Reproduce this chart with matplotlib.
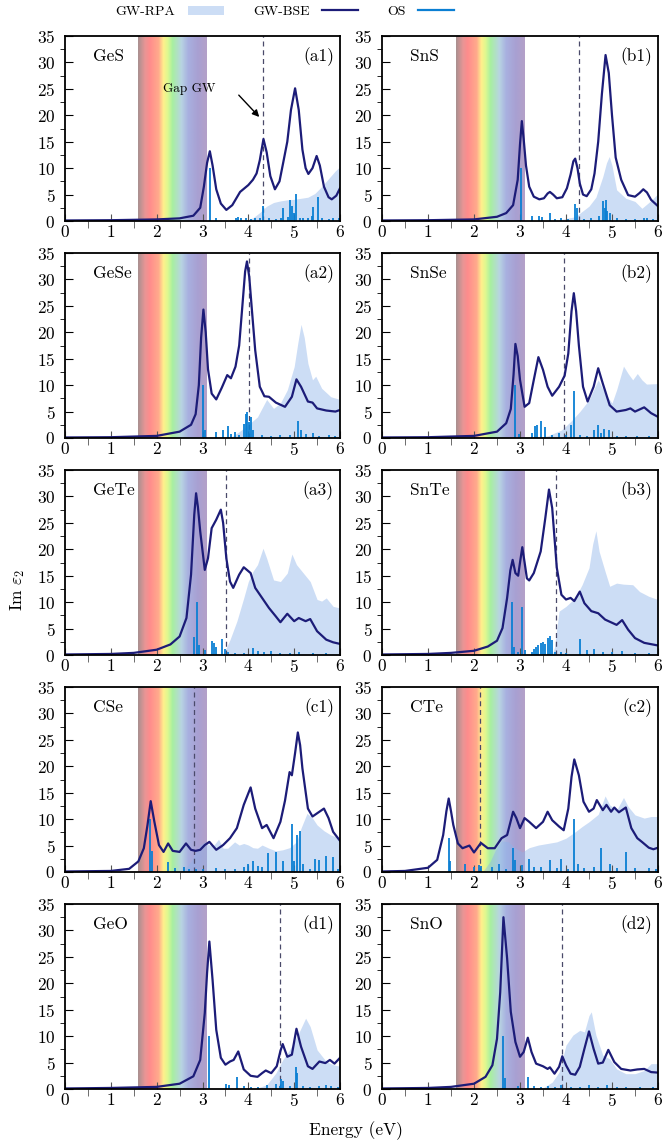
import numpy as np
import matplotlib
matplotlib.use('Agg')
import matplotlib.pyplot as plt
from matplotlib.colors import LinearSegmentedColormap
from matplotlib.patches import Patch
from matplotlib.lines import Line2D

plt.rcParams['font.family'] = 'serif'
plt.rcParams['font.serif'] = ['cmr10']
plt.rcParams['mathtext.fontset'] = 'cm'
plt.rcParams['axes.formatter.use_mathtext'] = True
plt.rcParams['axes.unicode_minus'] = False

# ---- data ----
names = ['GeS', 'SnS', 'GeSe', 'SnSe', 'GeTe', 'SnTe', 'CSe', 'CTe', 'GeO', 'SnO']
tags = ['(a1)', '(b1)', '(a2)', '(b2)', '(a3)', '(b3)', '(c1)', '(c2)', '(d1)', '(d2)']
gap_gw = [4.33, 4.28, 4.01, 3.96, 3.51, 3.78, 2.82, 2.12, 4.69, 3.91]

# GeS
ges_bse_x = [0, 1.0, 2.0, 2.5, 2.8, 2.95, 3.03, 3.1, 3.16, 3.22, 3.3, 3.4, 3.52, 3.65, 3.82, 4.0, 4.1, 4.18, 4.25, 4.33, 4.4, 4.48, 4.58, 4.68, 4.76, 4.85, 4.93, 5.02, 5.1, 5.18, 5.25, 5.31, 5.4, 5.49, 5.56, 5.65, 5.75, 5.82, 5.92, 6.0]
ges_bse_y = [0.1, 0.15, 0.3, 0.5, 1.0, 2.5, 6.5, 11.0, 13.2, 10.5, 6.0, 3.3, 2.1, 3.0, 5.5, 6.8, 7.8, 9.0, 11.5, 15.5, 13.0, 8.5, 6.0, 7.5, 11.0, 15.0, 21.0, 25.1, 21.0, 13.5, 10.0, 8.9, 10.0, 12.3, 10.5, 6.5, 4.5, 4.1, 4.8, 6.2]
ges_rpa_x = [3.9, 4.1, 4.25, 4.4, 4.55, 4.7, 4.85, 5.0, 5.15, 5.3, 5.45, 5.6, 5.75, 5.9, 6.0]
ges_rpa_y = [0, 0.6, 1.6, 2.8, 3.5, 3.8, 4.0, 4.1, 4.3, 4.5, 5.2, 6.5, 8.0, 9.5, 10.3]
ges_os_x = [3.16, 3.3, 3.72, 3.78, 3.85, 3.95, 4.05, 4.15, 4.25, 4.33, 4.45, 4.6, 4.72, 4.76, 4.87, 4.91, 4.95, 5.0, 5.05, 5.12, 5.2, 5.3, 5.38, 5.42, 5.53, 5.6, 5.75, 5.85, 5.97]
ges_os_y = [10.0, 0.6, 0.5, 0.8, 0.6, 0.5, 0.4, 0.5, 0.6, 2.9, 0.5, 0.4, 0.6, 2.4, 0.8, 3.9, 2.9, 1.6, 5.1, 0.6, 0.5, 0.6, 0.9, 2.7, 4.6, 0.6, 0.4, 0.5, 0.6]

# SnS
sns_bse_x = [0, 1.0, 2.0, 2.5, 2.7, 2.85, 2.95, 3.0, 3.04, 3.08, 3.13, 3.2, 3.3, 3.42, 3.52, 3.6, 3.65, 3.72, 3.8, 3.92, 4.02, 4.1, 4.16, 4.2, 4.25, 4.3, 4.37, 4.45, 4.55, 4.62, 4.7, 4.78, 4.86, 4.93, 5.0, 5.08, 5.2, 5.35, 5.5, 5.6, 5.68, 5.76, 5.85, 6.0]
sns_bse_y = [0.1, 0.15, 0.3, 0.8, 1.5, 3.0, 7.8, 14.5, 18.9, 15.5, 10.5, 6.5, 4.6, 4.1, 4.3, 5.2, 5.5, 5.0, 4.3, 4.5, 6.2, 8.8, 11.3, 11.8, 10.0, 7.1, 5.0, 4.7, 6.0, 9.0, 15.0, 24.0, 31.4, 28.0, 20.0, 12.0, 7.8, 4.9, 4.6, 5.3, 6.0, 5.4, 4.0, 2.8]
sns_rpa_x = [3.6, 3.9, 4.2, 4.35, 4.5, 4.65, 4.8, 4.88, 4.94, 5.0, 5.1, 5.3, 5.5, 5.65, 5.8, 5.9, 6.0]
sns_rpa_y = [0, 0.3, 0.8, 1.8, 2.8, 4.5, 8.4, 11.0, 12.2, 10.5, 5.9, 4.3, 3.7, 2.4, 3.5, 4.3, 5.2]
sns_os_x = [3.03, 3.25, 3.42, 3.47, 3.65, 3.75, 3.9, 4.05, 4.2, 4.24, 4.4, 4.55, 4.72, 4.8, 4.84, 4.87, 4.9, 4.95, 5.1, 5.3, 5.5, 5.7, 5.75, 5.9]
sns_os_y = [10.0, 1.0, 0.9, 0.8, 1.6, 0.4, 0.5, 0.4, 3.3, 2.5, 0.4, 0.6, 1.0, 3.7, 2.5, 4.0, 1.8, 1.5, 0.5, 0.4, 0.3, 0.6, 0.5, 0.3]

# GeSe
gese_bse_x = [0, 1.0, 2.0, 2.5, 2.75, 2.85, 2.92, 2.97, 3.02, 3.07, 3.12, 3.2, 3.3, 3.42, 3.54, 3.62, 3.72, 3.8, 3.87, 3.93, 3.97, 4.02, 4.08, 4.15, 4.25, 4.35, 4.45, 4.6, 4.8, 4.95, 5.05, 5.15, 5.3, 5.4, 5.5, 5.7, 5.9, 6.0]
gese_bse_y = [0.1, 0.15, 0.4, 1.2, 2.5, 4.5, 10.0, 19.0, 24.3, 20.0, 13.0, 8.4, 7.3, 9.5, 11.9, 11.3, 13.5, 17.5, 25.0, 31.5, 33.4, 30.5, 24.0, 16.6, 9.7, 7.9, 7.8, 6.7, 5.9, 7.8, 11.1, 9.7, 6.9, 6.7, 5.6, 5.2, 5.0, 5.3]
gese_rpa_x = [3.6, 3.8, 4.0, 4.2, 4.4, 4.55, 4.7, 4.85, 5.0, 5.08, 5.15, 5.22, 5.3, 5.4, 5.47, 5.6, 5.8, 6.0]
gese_rpa_y = [0, 1.2, 2.5, 4.0, 7.3, 5.6, 6.6, 9.1, 13.5, 18.0, 21.5, 19.0, 14.1, 11.0, 11.7, 9.4, 7.8, 7.3]
gese_os_x = [3.0, 3.05, 3.3, 3.45, 3.55, 3.62, 3.7, 3.8, 3.9, 3.95, 3.98, 4.01, 4.05, 4.1, 4.3, 4.5, 4.7, 4.9, 5.08, 5.15, 5.25, 5.4, 5.55, 5.75, 5.9]
gese_os_y = [10.0, 1.5, 1.2, 1.5, 2.2, 0.8, 1.2, 0.6, 2.6, 4.6, 5.0, 3.0, 4.0, 1.5, 0.6, 0.4, 0.5, 0.6, 3.2, 1.5, 0.8, 1.0, 0.4, 0.5, 0.3]

# SnSe
snse_bse_x = [0, 1.0, 2.0, 2.5, 2.7, 2.8, 2.86, 2.9, 2.95, 3.0, 3.1, 3.2, 3.3, 3.4, 3.5, 3.6, 3.7, 3.85, 3.97, 4.05, 4.12, 4.17, 4.22, 4.28, 4.37, 4.47, 4.6, 4.7, 4.8, 4.95, 5.1, 5.3, 5.4, 5.5, 5.7, 5.85, 6.0]
snse_bse_y = [0.1, 0.15, 0.4, 1.2, 2.8, 5.5, 12.0, 17.8, 15.5, 11.0, 5.9, 6.6, 11.0, 15.3, 12.9, 9.7, 8.0, 9.7, 11.8, 16.0, 24.0, 27.4, 24.0, 17.5, 9.7, 6.9, 9.7, 13.2, 10.3, 6.2, 5.0, 5.3, 5.6, 5.0, 5.8, 4.7, 4.0]
snse_rpa_x = [3.3, 3.6, 3.9, 4.1, 4.3, 4.5, 4.7, 4.85, 5.0, 5.1, 5.25, 5.35, 5.45, 5.55, 5.65, 5.75, 6.0]
snse_rpa_y = [0, 0.4, 1.5, 3.1, 5.0, 7.2, 11.0, 8.4, 6.6, 9.1, 13.6, 12.2, 11.0, 12.2, 11.0, 10.2, 10.3]
snse_os_x = [2.9, 2.97, 3.25, 3.32, 3.38, 3.45, 3.55, 3.7, 3.85, 4.0, 4.1, 4.17, 4.3, 4.45, 4.6, 4.7, 4.75, 4.82, 4.93, 5.1, 5.3, 5.55, 5.8]
snse_os_y = [10.0, 0.8, 1.0, 2.3, 2.5, 3.2, 2.0, 0.5, 1.0, 0.6, 2.5, 8.8, 0.5, 0.4, 1.5, 2.5, 1.0, 1.7, 1.5, 0.4, 0.4, 0.3, 0.3]

# GeTe
gete_bse_x = [0, 1.0, 1.5, 2.0, 2.3, 2.5, 2.65, 2.75, 2.82, 2.86, 2.9, 2.95, 3.05, 3.12, 3.2, 3.3, 3.4, 3.45, 3.52, 3.6, 3.67, 3.8, 3.9, 4.05, 4.15, 4.3, 4.45, 4.6, 4.7, 4.85, 5.0, 5.1, 5.25, 5.35, 5.5, 5.7, 5.85, 6.0]
gete_bse_y = [0.1, 0.2, 0.4, 1.0, 2.0, 3.5, 7.0, 15.2, 26.5, 30.6, 28.0, 23.4, 16.1, 18.3, 24.0, 25.6, 27.5, 25.0, 18.3, 13.9, 12.7, 15.2, 16.6, 15.5, 12.7, 10.8, 8.9, 7.3, 6.2, 7.8, 6.4, 7.0, 6.4, 6.8, 4.5, 2.9, 2.4, 2.1]
gete_rpa_x = [3.42, 3.5, 3.6, 3.75, 3.9, 4.0, 4.1, 4.2, 4.32, 4.4, 4.55, 4.7, 4.85, 4.95, 5.05, 5.2, 5.35, 5.5, 5.6, 5.7, 5.85, 6.0]
gete_rpa_y = [0, 1.0, 2.9, 6.4, 10.8, 13.9, 15.8, 17.1, 20.2, 18.3, 14.2, 13.9, 15.5, 19.1, 17.1, 15.5, 13.9, 10.5, 10.2, 10.8, 9.2, 8.9]
gete_os_x = [2.82, 2.88, 2.92, 3.05, 3.2, 3.25, 3.3, 3.42, 3.48, 3.55, 3.7, 3.9, 4.1, 4.2, 4.35, 4.5, 4.7, 4.9, 5.1, 5.4, 5.7]
gete_os_y = [3.5, 10.0, 1.8, 1.0, 2.7, 2.2, 1.5, 3.0, 1.2, 0.5, 0.4, 0.4, 1.4, 0.8, 0.5, 0.7, 0.4, 0.4, 0.5, 0.3, 0.3]

# SnTe
snte_bse_x = [0, 1.0, 1.5, 2.0, 2.3, 2.5, 2.62, 2.72, 2.79, 2.84, 2.9, 2.96, 3.0, 3.05, 3.1, 3.15, 3.2, 3.3, 3.45, 3.55, 3.63, 3.7, 3.8, 3.9, 4.0, 4.1, 4.18, 4.3, 4.4, 4.55, 4.7, 4.85, 5.0, 5.1, 5.22, 5.35, 5.5, 5.7, 6.0]
snte_bse_y = [0.1, 0.2, 0.4, 0.8, 1.6, 2.7, 5.1, 10.8, 16.0, 18.0, 15.5, 15.0, 17.5, 20.4, 17.5, 14.5, 14.1, 15.5, 19.6, 25.9, 31.3, 27.8, 16.5, 11.4, 10.5, 10.8, 10.2, 12.0, 9.8, 8.3, 7.9, 6.7, 6.1, 5.7, 6.6, 4.8, 3.2, 2.3, 1.8]
snte_rpa_x = [3.7, 3.75, 3.8, 3.85, 4.0, 4.2, 4.35, 4.5, 4.58, 4.65, 4.72, 4.85, 4.95, 5.1, 5.25, 5.45, 5.6, 5.8, 6.0]
snte_rpa_y = [0, 1.5, 5.0, 8.3, 9.2, 10.8, 13.3, 16.5, 21.0, 23.5, 19.6, 15.8, 13.0, 13.6, 13.4, 13.3, 12.0, 11.1, 10.5]
snte_os_x = [2.82, 2.86, 2.95, 3.05, 3.1, 3.25, 3.3, 3.35, 3.4, 3.45, 3.5, 3.55, 3.6, 3.65, 3.7, 3.75, 3.9, 4.0, 4.3, 4.45, 4.6, 4.8, 5.0, 5.22, 5.5, 5.8]
snte_os_y = [10.0, 1.5, 0.5, 9.1, 1.0, 0.6, 1.2, 1.5, 1.8, 2.3, 2.5, 2.0, 3.3, 3.6, 2.8, 0.6, 0.5, 0.4, 3.0, 1.0, 1.2, 0.5, 0.5, 0.8, 0.4, 0.3]

# CSe
cse_bse_x = [0, 1.0, 1.4, 1.6, 1.72, 1.8, 1.87, 1.95, 2.05, 2.15, 2.25, 2.35, 2.5, 2.64, 2.75, 2.85, 2.95, 3.05, 3.15, 3.3, 3.45, 3.6, 3.75, 3.9, 4.05, 4.15, 4.3, 4.4, 4.55, 4.7, 4.8, 4.9, 4.95, 5.02, 5.08, 5.13, 5.18, 5.3, 5.4, 5.55, 5.65, 5.75, 5.85, 6.0]
cse_bse_y = [0.1, 0.2, 0.6, 2.0, 4.5, 8.9, 13.4, 9.5, 5.1, 3.8, 5.4, 4.0, 3.8, 5.4, 4.2, 4.0, 4.2, 5.1, 5.7, 4.2, 5.1, 6.4, 8.3, 12.7, 16.0, 12.0, 8.3, 8.9, 6.4, 9.5, 13.5, 18.9, 18.3, 22.5, 26.4, 24.0, 19.6, 12.0, 10.5, 11.4, 12.0, 10.2, 7.6, 5.9]
cse_rpa_x = [2.5, 2.6, 2.75, 2.85, 2.95, 3.05, 3.15, 3.25, 3.35, 3.45, 3.55, 3.7, 3.8, 3.9, 4.0, 4.1, 4.2, 4.3, 4.45, 4.6, 4.75, 4.9, 5.05, 5.15, 5.28, 5.4, 5.5, 5.65, 5.8, 6.0]
cse_rpa_y = [0, 0.4, 2.0, 3.8, 5.1, 5.7, 5.1, 5.1, 6.2, 4.5, 4.5, 5.7, 5.1, 5.4, 5.1, 4.6, 4.5, 5.1, 4.5, 4.0, 4.2, 4.6, 5.7, 8.3, 11.1, 10.2, 8.9, 7.8, 7.0, 6.4]
cse_os_x = [1.86, 1.9, 2.25, 2.4, 2.6, 2.7, 2.85, 3.0, 3.3, 3.5, 3.7, 3.9, 4.0, 4.1, 4.2, 4.3, 4.42, 4.6, 4.75, 4.95, 5.0, 5.07, 5.12, 5.2, 5.35, 5.45, 5.55, 5.7, 5.85, 5.95]
cse_os_y = [10.0, 4.0, 1.8, 0.8, 1.0, 0.6, 0.5, 0.6, 0.8, 0.6, 0.5, 1.0, 1.5, 2.0, 1.2, 1.0, 3.6, 3.7, 2.0, 9.0, 2.0, 7.0, 7.7, 1.5, 0.6, 2.5, 2.2, 3.0, 2.8, 0.5]

# CTe
cte_bse_x = [0, 0.5, 1.0, 1.2, 1.33, 1.4, 1.45, 1.5, 1.55, 1.65, 1.75, 1.9, 2.0, 2.15, 2.3, 2.45, 2.6, 2.72, 2.85, 2.92, 3.0, 3.1, 3.2, 3.35, 3.5, 3.6, 3.7, 3.85, 3.95, 4.05, 4.12, 4.18, 4.28, 4.38, 4.5, 4.6, 4.67, 4.8, 4.88, 4.98, 5.05, 5.15, 5.3, 5.42, 5.55, 5.65, 5.8, 5.9, 6.0]
cte_bse_y = [0.1, 0.2, 0.8, 2.3, 7.0, 11.5, 13.9, 11.5, 8.9, 5.4, 4.5, 5.0, 3.7, 5.5, 4.5, 4.5, 6.4, 7.0, 11.4, 10.2, 8.3, 10.2, 9.5, 8.3, 9.5, 11.4, 9.8, 8.6, 7.9, 12.0, 18.0, 21.3, 18.3, 13.3, 11.4, 12.0, 13.6, 11.7, 12.7, 11.4, 12.2, 11.3, 12.2, 8.3, 6.4, 5.7, 4.6, 4.3, 4.6]
cte_rpa_x = [2.1, 2.2, 2.35, 2.5, 2.6, 2.75, 2.9, 3.05, 3.2, 3.4, 3.6, 3.8, 4.0, 4.2, 4.35, 4.5, 4.7, 4.85, 4.95, 5.1, 5.25, 5.35, 5.5, 5.7, 5.85, 6.0]
cte_rpa_y = [0, 0.2, 2.0, 4.8, 5.9, 5.7, 4.5, 3.8, 4.6, 5.1, 5.4, 5.7, 6.4, 7.6, 8.6, 9.5, 10.9, 14.4, 12.7, 11.7, 14.1, 12.4, 10.8, 10.2, 10.5, 10.5]
cte_os_x = [1.45, 1.48, 1.8, 2.0, 2.1, 2.15, 2.4, 2.55, 2.7, 2.85, 2.9, 3.05, 3.2, 3.3, 3.45, 3.65, 3.8, 3.9, 4.05, 4.18, 4.25, 4.4, 4.6, 4.75, 4.95, 5.1, 5.3, 5.5, 5.8, 5.95]
cte_os_y = [6.4, 2.0, 1.5, 1.0, 1.3, 1.2, 1.0, 1.5, 0.6, 4.5, 2.3, 1.4, 2.5, 1.0, 1.0, 2.2, 0.8, 2.5, 0.6, 10.0, 1.5, 0.8, 1.0, 4.5, 1.5, 0.7, 3.8, 0.8, 0.8, 0.5]

# GeO
geo_bse_x = [0, 1.0, 2.0, 2.5, 2.8, 2.95, 3.05, 3.1, 3.15, 3.22, 3.3, 3.4, 3.5, 3.6, 3.68, 3.78, 3.9, 4.05, 4.2, 4.3, 4.38, 4.5, 4.62, 4.7, 4.75, 4.85, 4.95, 5.05, 5.15, 5.3, 5.4, 5.55, 5.68, 5.78, 5.88, 6.0]
geo_bse_y = [0.1, 0.2, 0.4, 1.0, 2.4, 5.5, 14.4, 22.0, 27.9, 20.6, 11.2, 5.9, 4.6, 5.2, 5.5, 7.1, 3.7, 2.5, 2.3, 3.0, 3.5, 3.0, 4.3, 7.2, 8.5, 6.1, 6.5, 11.4, 8.0, 4.3, 3.8, 5.2, 4.9, 5.5, 4.8, 5.9]
geo_rpa_x = [4.1, 4.2, 4.4, 4.6, 4.75, 4.9, 5.1, 5.25, 5.35, 5.5, 5.7, 5.85, 6.0]
geo_rpa_y = [0, 0.2, 0.8, 3.0, 5.5, 7.4, 10.6, 13.4, 11.8, 7.4, 5.2, 4.6, 4.3]
geo_os_x = [3.15, 3.52, 3.58, 3.75, 3.9, 4.05, 4.2, 4.4, 4.6, 4.68, 4.72, 4.75, 4.9, 5.03, 5.06, 5.2, 5.35, 5.55, 5.7, 5.8, 5.95]
geo_os_y = [10.0, 1.0, 0.8, 2.3, 0.5, 0.4, 0.4, 0.8, 1.0, 0.6, 1.8, 1.5, 0.5, 4.1, 3.0, 0.5, 0.4, 0.5, 0.7, 0.6, 0.4]

# SnO
sno_bse_x = [0, 1.0, 1.5, 2.0, 2.25, 2.4, 2.5, 2.57, 2.64, 2.72, 2.8, 2.9, 3.0, 3.08, 3.17, 3.25, 3.35, 3.5, 3.6, 3.65, 3.75, 3.85, 3.92, 4.0, 4.1, 4.2, 4.3, 4.4, 4.5, 4.6, 4.7, 4.8, 4.92, 5.05, 5.2, 5.4, 5.55, 5.7, 5.85, 6.0]
sno_bse_y = [0.1, 0.2, 0.4, 1.0, 2.3, 4.5, 9.5, 18.3, 32.5, 24.7, 14.6, 8.9, 6.1, 7.0, 9.7, 7.0, 4.8, 4.3, 3.8, 4.1, 2.9, 4.2, 6.2, 4.5, 2.9, 2.7, 4.2, 7.6, 10.9, 7.6, 4.8, 5.0, 7.4, 5.1, 3.8, 3.5, 3.7, 3.8, 3.2, 3.1]
sno_rpa_x = [3.4, 3.5, 3.7, 3.85, 4.0, 4.15, 4.3, 4.4, 4.5, 4.55, 4.65, 4.8, 4.95, 5.1, 5.3, 5.5, 5.7, 5.85, 6.0]
sno_rpa_y = [0, 0.2, 1.3, 3.2, 8.3, 10.2, 11.1, 10.8, 13.9, 14.6, 10.2, 6.4, 5.7, 3.8, 2.9, 2.9, 3.5, 4.8, 4.8]
sno_os_x = [2.64, 2.68, 2.95, 3.17, 3.3, 3.45, 3.6, 3.75, 3.9, 4.1, 4.3, 4.5, 4.7, 4.9, 5.1, 5.3, 5.6, 5.9]
sno_os_y = [10.0, 2.0, 0.5, 2.3, 0.5, 0.3, 0.5, 0.3, 0.7, 0.3, 0.4, 0.8, 0.4, 0.8, 0.3, 0.3, 0.3, 0.3]

bse = [(ges_bse_x, ges_bse_y), (sns_bse_x, sns_bse_y), (gese_bse_x, gese_bse_y), (snse_bse_x, snse_bse_y),
       (gete_bse_x, gete_bse_y), (snte_bse_x, snte_bse_y), (cse_bse_x, cse_bse_y), (cte_bse_x, cte_bse_y),
       (geo_bse_x, geo_bse_y), (sno_bse_x, sno_bse_y)]
rpa = [(ges_rpa_x, ges_rpa_y), (sns_rpa_x, sns_rpa_y), (gese_rpa_x, gese_rpa_y), (snse_rpa_x, snse_rpa_y),
       (gete_rpa_x, gete_rpa_y), (snte_rpa_x, snte_rpa_y), (cse_rpa_x, cse_rpa_y), (cte_rpa_x, cte_rpa_y),
       (geo_rpa_x, geo_rpa_y), (sno_rpa_x, sno_rpa_y)]
osc = [(ges_os_x, ges_os_y), (sns_os_x, sns_os_y), (gese_os_x, gese_os_y), (snse_os_x, snse_os_y),
       (gete_os_x, gete_os_y), (snte_os_x, snte_os_y), (cse_os_x, cse_os_y), (cte_os_x, cte_os_y),
       (geo_os_x, geo_os_y), (sno_os_x, sno_os_y)]

# ---- styling ----
c_rpa = '#8fb4ea'
c_bse = '#1c1c78'
c_os = '#0b7fd3'
band_colors = [(0.0, '#a89090'), (0.10, '#e89595'), (0.17, '#ff8c8c'), (0.30, '#ffab8c'),
               (0.37, '#fff08c'), (0.43, '#def890'), (0.50, '#a8f0a0'), (0.63, '#b8d4e2'),
               (0.73, '#a8b0e0'), (0.87, '#a8a0d2'), (1.0, '#b4a0c8')]
band_cmap = LinearSegmentedColormap.from_list('vis', band_colors)

W, H = 663, 1143
fig = plt.figure(figsize=(W / 100, H / 100), dpi=100)

col_left = [65, 382]
col_w = [275, 276]
for i in range(10):
    r, c = i // 2, i % 2
    top = 36 + 217 * r
    ax = fig.add_axes([col_left[c] / W, 1 - (top + 185) / H, col_w[c] / W, 185 / H])
    grad = np.linspace(0, 1, 256).reshape(1, -1)
    ax.imshow(grad, extent=[1.6, 3.1, 0, 35], aspect='auto', cmap=band_cmap, zorder=0.5)
    rx, ry = rpa[i]
    ax.fill_between(rx, 0, ry, color=c_rpa, alpha=0.45, lw=0, zorder=1)
    ax.axvline(gap_gw[i], color='#4a4a6a', lw=0.9, ls=(0, (4, 3)), zorder=2)
    ox, oy = osc[i]
    ax.vlines(ox, 0, oy, color=c_os, lw=1.3, zorder=3)
    bx, by = bse[i]
    ax.plot(bx, by, color=c_bse, lw=1.6, zorder=4)

    ax.set_xlim(0, 6)
    ax.set_ylim(0, 35)
    ax.set_xticks(range(7))
    ax.set_xticks(np.arange(0, 6.01, 0.5), minor=True)
    ax.set_yticks(range(0, 36, 5))
    ax.set_yticks(np.arange(0, 35.1, 2.5), minor=True)
    ax.tick_params(direction='in', top=False, right=False, labelsize=12.5, width=0.8)
    ax.tick_params(axis='x', which='both', length=5, color='#555555', pad=2)
    ax.tick_params(axis='y', which='major', length=6, pad=7)
    ax.tick_params(axis='y', which='minor', length=3.5)
    for s in ax.spines.values():
        s.set_linewidth(1.3)
        s.set_zorder(5)

    ax.text(0.10, 0.89, names[i], transform=ax.transAxes, fontsize=12.5, ha='left', va='center')
    ax.text(0.978, 0.89, tags[i], transform=ax.transAxes, fontsize=12.5, ha='right', va='center')

    if i == 0:
        ax.text(2.14, 25.0, 'Gap GW', fontsize=9.5, ha='left', va='center')
        ax.annotate('', xy=(4.28, 19.3), xytext=(3.75, 24.2),
                    arrowprops=dict(arrowstyle='-|>', color='black', lw=1, mutation_scale=10))

handles = [Patch(facecolor=c_rpa, alpha=0.45, lw=0),
           Line2D([], [], color=c_bse, lw=1.6),
           Line2D([], [], color=c_os, lw=1.6)]
fig.legend(handles, ['GW-RPA', 'GW-BSE', 'OS'], loc='center', bbox_to_anchor=(285 / W, 1 - 12 / H),
           ncol=3, frameon=False, markerfirst=False, fontsize=10, handlelength=2.6,
           columnspacing=2.1, handletextpad=0.9, borderaxespad=0, borderpad=0)

fig.text(18 / W, 1 - 590 / H, r'Im $\varepsilon_2$', rotation=90, ha='center', va='center', fontsize=12.5)
fig.text(356 / W, 1 - 1131 / H, 'Energy (eV)', ha='center', va='center', fontsize=12.5)

fig.savefig('out.png', dpi=100)
